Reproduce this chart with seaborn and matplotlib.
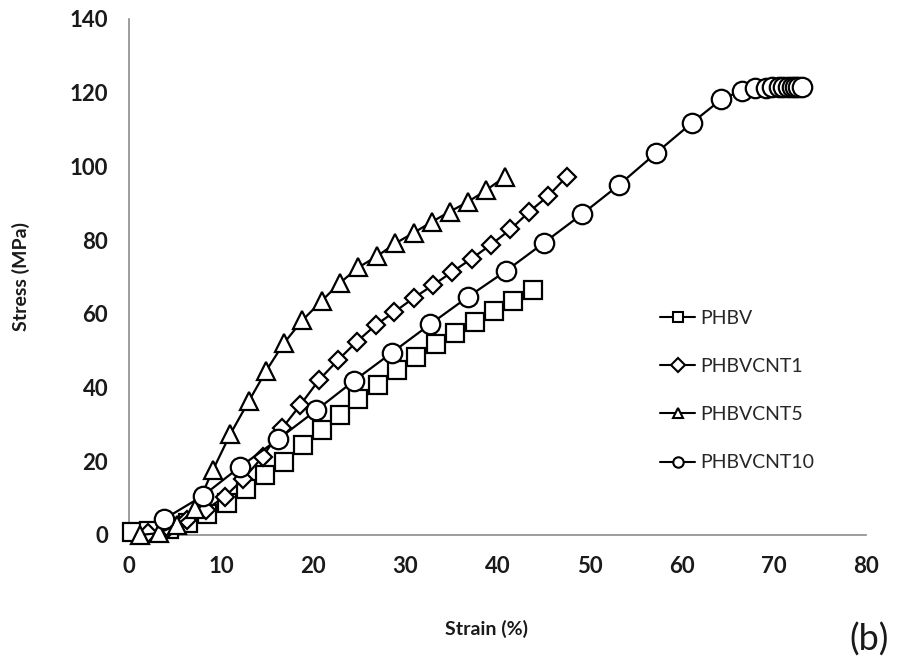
import matplotlib
matplotlib.use("Agg")
import matplotlib.pyplot as plt
import seaborn as sns
import pandas as pd

# Stress-strain data for PHBV and its CNT composites
phbv_strain = [0.3, 2.2, 4.3, 6.4, 8.5, 10.6, 12.7, 14.8, 16.8, 18.9, 20.9, 22.9,
               24.9, 27.0, 29.1, 31.2, 33.3, 35.4, 37.5, 39.6, 41.7, 43.8]
phbv_stress = [0.9, 1.0, 1.6, 3.3, 5.8, 8.8, 12.5, 16.3, 19.9, 24.4, 28.5, 32.6,
               37.0, 40.7, 44.7, 48.2, 51.8, 54.9, 57.8, 60.8, 63.6, 66.4]

cnt1_strain = [2.1, 4.2, 6.3, 8.3, 10.4, 12.4, 14.5, 16.6, 18.6, 20.6, 22.7, 24.7,
               26.8, 28.8, 30.9, 33.0, 35.1, 37.2, 39.3, 41.4, 43.4, 45.5, 47.5]
cnt1_stress = [0.5, 1.9, 4.1, 6.8, 10.4, 15.2, 21.2, 28.9, 35.3, 42.0, 47.5, 52.4,
               57.0, 60.5, 64.3, 67.8, 71.4, 75.0, 78.8, 82.9, 87.6, 92.0, 97.2]

cnt5_strain = [1.2, 3.2, 5.2, 7.2, 9.1, 11.0, 13.0, 14.9, 16.8, 18.8, 20.9, 22.9,
               24.9, 26.9, 28.9, 30.9, 32.9, 34.8, 36.8, 38.8, 40.8]
cnt5_stress = [0.0, 0.5, 2.7, 7.0, 17.6, 27.4, 36.3, 44.6, 52.0, 58.2, 63.5, 68.4,
               72.6, 75.6, 79.1, 82.0, 85.0, 87.7, 90.4, 93.6, 97.2]

cnt10_strain = [3.8, 8.0, 12.0, 16.2, 20.3, 24.4, 28.5, 32.7, 36.8, 40.9, 45.0, 49.2,
                53.2, 57.2, 61.1, 64.3, 66.5, 68.0, 69.1, 69.8, 70.5, 71.0, 71.5,
                72.0, 72.3, 72.6, 73.0]
cnt10_stress = [4.3, 10.6, 18.4, 26.0, 33.8, 41.8, 49.4, 57.2, 64.6, 71.6, 79.2, 87.1,
                95.0, 103.6, 111.8, 118.2, 120.5, 121.2, 121.4, 121.5, 121.5, 121.5,
                121.6, 121.6, 121.6, 121.6, 121.5]

series_names = ["PHBV", "PHBVCNT1", "PHBVCNT5", "PHBVCNT10"]
x_ticks = [0, 10, 20, 30, 40, 50, 60, 70, 80]
y_ticks = [0, 20, 40, 60, 80, 100, 120, 140]

sns.set_style("white")
plt.rcParams["font.family"] = ["Lato", "DejaVu Sans"]

fig = plt.figure(figsize=(8.98, 6.63), dpi=100)
ax = fig.add_axes([0.1437, 0.1931, 0.8207, 0.7783])

series = [
    (phbv_strain, phbv_stress, "s", 13),
    (cnt1_strain, cnt1_stress, "D", 9.5),
    (cnt5_strain, cnt5_stress, "^", 13),
    (cnt10_strain, cnt10_stress, "o", 14),
]

for name, (xs, ys, mk, ms) in zip(series_names, series):
    df = pd.DataFrame({"strain": xs, "stress": ys})
    sns.lineplot(data=df, x="strain", y="stress", ax=ax, sort=False, estimator=None,
                 color="black", linewidth=1.6, marker=mk, markersize=ms,
                 markerfacecolor="white", markeredgecolor="black",
                 markeredgewidth=1.6, label=name, clip_on=False, zorder=3)

ax.set_xlim(0, 80)
ax.set_ylim(0, 140)
ax.set_xticks(x_ticks)
ax.set_yticks(y_ticks)

for side in ["top", "right"]:
    ax.spines[side].set_visible(False)
for side in ["left", "bottom"]:
    ax.spines[side].set_color("#8c8c8c")
    ax.spines[side].set_linewidth(1.2)
    ax.spines[side].set_zorder(1)

ax.tick_params(axis="both", which="major", direction="out", length=6, width=1.2,
               color="#8c8c8c", labelsize=16, labelcolor="#1a1a1a")
ax.tick_params(axis="y", pad=9)
ax.tick_params(axis="x", pad=9)
for lbl in ax.get_xticklabels() + ax.get_yticklabels():
    lbl.set_fontweight("bold")

ax.set_xlabel("Strain (%)", fontsize=14, fontweight="bold", color="#1a1a1a")
ax.set_ylabel("Stress (MPa)", fontsize=14, fontweight="bold", color="#1a1a1a")
ax.xaxis.set_label_coords(0.485, -0.165)
ax.yaxis.set_label_coords(-0.135, 0.5)

leg = ax.legend(loc="upper left", bbox_to_anchor=(0.7205, 0.436), frameon=False,
                fontsize=14, handlelength=1.8, handletextpad=0.25, labelspacing=1.6,
                borderaxespad=0, borderpad=0)
for h in leg.legend_handles:
    h.set_markersize(7.5)
    h.set_markeredgewidth(1.5)
    h.set_linewidth(1.5)

fig.text(0.946, 0.01, "(b)", fontsize=26, ha="left", va="bottom", color="#1a1a1a")

fig.savefig("out.png", dpi=100, facecolor="white")
